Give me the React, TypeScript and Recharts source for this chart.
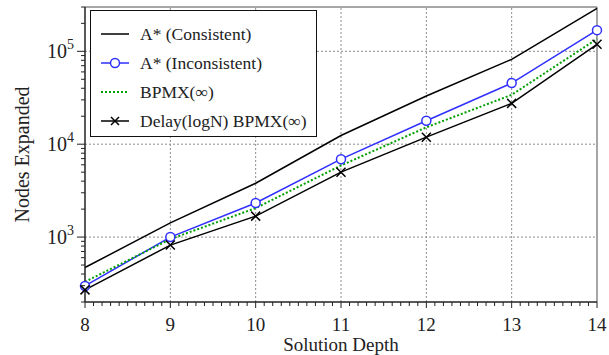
import { LineChart, Line, XAxis, YAxis, ReferenceLine } from "recharts";

const depths = [8, 9, 10, 11, 12, 13, 14];
const astarConsistent = [470, 1420, 3800, 12400, 33000, 82000, 290000];
const astarInconsistent = [298, 1000, 2330, 6900, 17900, 45500, 169000];
const bpmxInf = [330, 950, 2050, 5900, 15200, 34000, 136000];
const delayBpmx = [270, 820, 1680, 5000, 11900, 27500, 119000];

const xMajor = [8, 9, 10, 11, 12, 13, 14];
const xTicks = Array.from({ length: 61 }, (_, i) => Math.round((8 + i * 0.1) * 10) / 10);
const xGrid = [9, 10, 11, 12, 13];
const yMajor = [1e3, 1e4, 1e5];
const yTicks = [
  200, 300, 400, 500, 600, 700, 800, 900,
  1000, 2000, 3000, 4000, 5000, 6000, 7000, 8000, 9000,
  10000, 20000, 30000, 40000, 50000, 60000, 70000, 80000, 90000,
  100000, 200000, 300000,
];

const rows = depths.map((d, i) => ({
  depth: d,
  cons: astarConsistent[i],
  incons: astarInconsistent[i],
  bpmx: bpmxInf[i],
  delay: delayBpmx[i],
}));

const FONT = "'Liberation Serif', 'Times New Roman', serif";
const BLUE = "#2f2fff";
const GREEN = "#00a000";
const AXIS = "#222";
const FRAME = "#888";
const GRID = "#8c8c8c";

const series = [
  { key: "cons", name: "A* (Consistent)", color: "#000", dash: undefined, marker: "none" },
  { key: "incons", name: "A* (Inconsistent)", color: BLUE, dash: undefined, marker: "circle" },
  { key: "bpmx", name: "BPMX(\u221e)", color: GREEN, dash: "2 2", marker: "none" },
  { key: "delay", name: "Delay(logN) BPMX(\u221e)", color: "#000", dash: undefined, marker: "cross" },
];

function CircleDot({ cx, cy, index }: any) {
  return <circle key={`c-${index}`} cx={cx} cy={cy} r={4.5} fill="#fff" stroke={BLUE} strokeWidth={1.5} />;
}

function CrossDot({ cx, cy, index }: any) {
  const s = 4.5;
  return (
    <path key={`x-${index}`} d={`M${cx - s},${cy - s}L${cx + s},${cy + s}M${cx - s},${cy + s}L${cx + s},${cy - s}`}
      stroke="#000" strokeWidth={1.5} fill="none" />
  );
}

function YTick({ x, y, payload }: any) {
  const v = payload.value;
  const major = yMajor.includes(v);
  return (
    <g>
      <line x1={x - (major ? 8 : 4)} x2={x} y1={y} y2={y} stroke={AXIS} strokeWidth={1} />
      {major && (
        <text x={x - 11} y={y + 7} textAnchor="end" fontFamily={FONT} fontSize={20} fill="#222">
          10<tspan dy={-9} fontSize={14}>{Math.round(Math.log10(v))}</tspan>
        </text>
      )}
    </g>
  );
}

function XTick({ x, y, payload }: any) {
  const v = payload.value;
  const major = xMajor.includes(v);
  return (
    <g>
      <line x1={x} x2={x} y1={y} y2={y + (major ? 6 : 4)} stroke={AXIS} strokeWidth={1} />
      {major && (
        <text x={x} y={y + 29} textAnchor="middle" fontFamily={FONT} fontSize={19} fill="#222">{v}</text>
      )}
    </g>
  );
}

function YLabel({ viewBox }: any) {
  const cx = viewBox.x + 22;
  const cy = viewBox.y + viewBox.height / 2;
  return (
    <text x={cx} y={cy} transform={`rotate(-90, ${cx}, ${cy})`} textAnchor="middle" dominantBaseline="central"
      fontFamily={FONT} fontSize={20} fill="#222">Nodes Expanded</text>
  );
}

function XLabel({ viewBox }: any) {
  return (
    <text x={viewBox.x + viewBox.width / 2} y={viewBox.y + 49} textAnchor="middle"
      fontFamily={FONT} fontSize={19} fill="#222">Solution Depth</text>
  );
}

function LegendBox() {
  return (
    <div style={{
      position: "absolute", left: 90, top: 10, width: 227, height: 127, boxSizing: "border-box",
      border: "1.5px solid #111", background: "#fff", fontFamily: FONT, fontSize: 17.5, color: "#222",
    }}>
      {series.map((s, i) => (
        <div key={s.key} style={{ position: "absolute", left: 9, top: 12 + i * 29, height: 22, display: "flex", alignItems: "center" }}>
          <svg width={30} height={14} style={{ marginRight: 10 }}>
            <line x1={1} x2={29} y1={7} y2={7} stroke={s.color} strokeWidth={s.dash ? 2 : 1.5} strokeDasharray={s.dash} />
            {s.marker === "circle" && <circle cx={15} cy={7} r={4.5} fill="#fff" stroke={BLUE} strokeWidth={1.5} />}
            {s.marker === "cross" && <path d="M11,3L19,11M11,11L19,3" stroke="#000" strokeWidth={1.5} />}
          </svg>
          <span>{s.name}</span>
        </div>
      ))}
    </div>
  );
}

export default function App() {
  return (
    <div style={{ position: "absolute", left: 0, top: 0, width: 609, height: 355, background: "#fff" }}>
      <LineChart width={609} height={355} data={rows} margin={{ top: 7, right: 12, bottom: 0, left: 0 }}>
        <XAxis dataKey="depth" type="number" domain={[8, 14]} ticks={xTicks} interval={0} height={53}
          tickSize={0} tickMargin={0} tickLine={false} tick={<XTick />} stroke={AXIS} strokeWidth={1.5}
          label={<XLabel />} />
        <YAxis type="number" scale="log" domain={[200, 300000]} allowDataOverflow ticks={yTicks} interval={0}
          width={85} tickSize={0} tickMargin={0} tickLine={false} tick={<YTick />} stroke={AXIS} strokeWidth={1.5}
          label={<YLabel />} />
        {xGrid.map((v) => (
          <ReferenceLine key={`vx-${v}`} x={v} stroke={GRID} strokeWidth={1} strokeDasharray="2 2" ifOverflow="extendDomain" />
        ))}
        {yMajor.map((v) => (
          <ReferenceLine key={`hy-${v}`} y={v} stroke={GRID} strokeWidth={1} strokeDasharray="2 2" />
        ))}
        <ReferenceLine y={300000} stroke={FRAME} strokeWidth={1.5} />
        <ReferenceLine x={14} stroke={FRAME} strokeWidth={1.5} />
        {series.map((s) => (
          <Line key={s.key} dataKey={s.key} name={s.name} type="linear" stroke={s.color}
            strokeWidth={s.dash ? 2 : 1.5} strokeDasharray={s.dash}
            dot={s.marker === "circle" ? <CircleDot /> : s.marker === "cross" ? <CrossDot /> : false}
            activeDot={false} isAnimationActive={false} />
        ))}
      </LineChart>
      <LegendBox />
    </div>
  );
}
